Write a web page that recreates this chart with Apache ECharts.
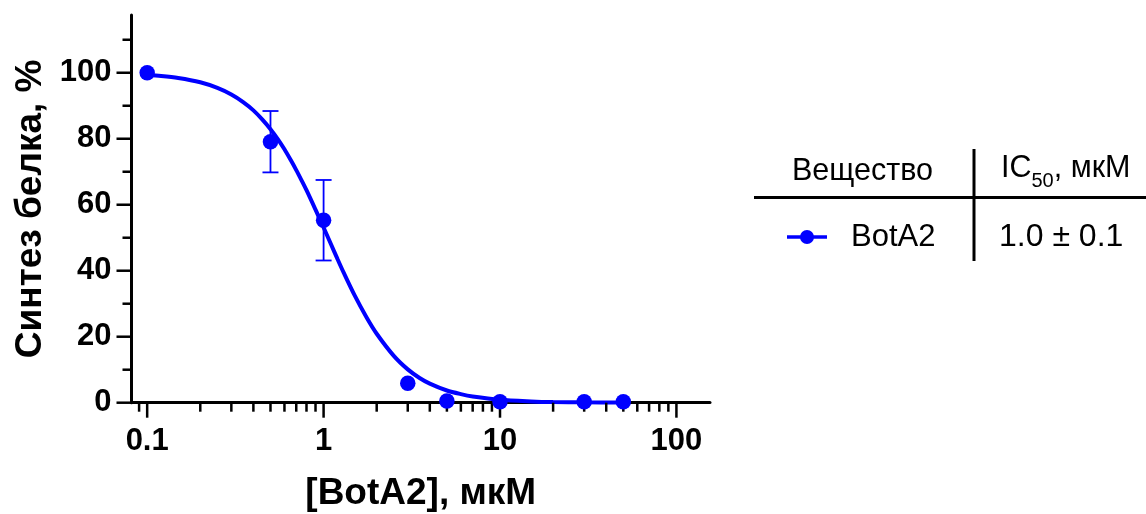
<!DOCTYPE html>
<html><head><meta charset="utf-8">
<script src="https://cdn.jsdelivr.net/npm/echarts@6/dist/echarts.min.js"></script>
<style>html,body{margin:0;padding:0;background:#fff}#c{width:1146px;height:514px}</style>
</head><body><div id="c"></div>
<script>
// ---- data ----
const concentrations = [0.1, 0.5, 1, 3, 5, 10, 30, 50];          // [BotA2], мкМ
const synthesisMean  = [100, 79.1, 55.3, 5.9, 0.5, 0.3, 0.3, 0.3]; // Синтез белка, %
const synthesisErr   = [0, 9.3, 12.2, 0, 0, 0, 0, 0];
const fitConc   = [0.1, 0.12, 0.15, 0.2, 0.25, 0.3, 0.35, 0.4, 0.45, 0.5, 0.55, 0.6, 0.65, 0.7, 0.75, 0.8, 0.9, 1, 1.1, 1.2, 1.3, 1.5, 1.75, 2, 2.5, 3, 3.5, 4, 5, 6, 7, 10, 15, 20, 30, 50];
const fitValues = [99.3, 99.0, 98.4, 97.1, 95.4, 93.4, 91.1, 88.6, 85.8, 82.9, 79.9, 76.8, 73.6, 70.5, 67.4, 64.4, 58.5, 53.1, 48.1, 43.5, 39.4, 32.5, 25.9, 20.9, 14.2, 10.1, 7.5, 5.8, 3.7, 2.6, 1.9, 0.9, 0.4, 0.2, 0.1, 0.03];
const xMajorTicks = [0.1, 1, 10, 100];
const xMinorTicks = [0.09, 0.2, 0.3, 0.4, 0.5, 0.6, 0.7, 0.8, 0.9, 2, 3, 4, 5, 6, 7, 8, 9, 20, 30, 40, 50, 60, 70, 80, 90];
const yMajorTicks = [0, 20, 40, 60, 80, 100];
const yMinorTicks = [10, 30, 50, 70, 90, 110];
const seriesName = 'BotA2';
const tableHeader = ['Вещество', 'IC', '50', ', мкМ'];
const tableRow = ['BotA2', '1.0 ± 0.1'];
const xTitle = '[BotA2], мкМ';
const yTitle = 'Синтез белка, %';

const X_MIN = 0.0815, X_MAX = 155, Y_MIN = 0, Y_MAX = 117.5;
const BLUE = '#0000ff';
const FONT = 'Liberation Sans';

function tickSeries(values, isX, len) {
  return {
    type: 'custom', coordinateSystem: 'cartesian2d', silent: true, clip: false, z: 5,
    data: values.filter(v => isX ? (v >= X_MIN && v <= X_MAX) : (v >= Y_MIN && v <= Y_MAX))
                .map(v => isX ? [v, Y_MIN] : [X_MIN, v]),
    renderItem: (params, api) => {
      const p = api.coord([api.value(0), api.value(1)]);
      const shape = isX ? { x1: p[0], y1: p[1], x2: p[0], y2: p[1] + len }
                        : { x1: p[0] - len, y1: p[1], x2: p[0], y2: p[1] };
      return { type: 'line', shape, style: { stroke: '#000', lineWidth: 2.5 } };
    }
  };
}

const errData = [];
concentrations.forEach((c, i) => { if (synthesisErr[i] > 0) errData.push([c, synthesisMean[i], synthesisErr[i]]); });

const boldText = { color: '#000', fontFamily: FONT, fontWeight: 'bold' };

const chart = echarts.init(document.getElementById('c'), null, { renderer: 'canvas' });
chart.setOption({
  animation: false,
  backgroundColor: '#fff',
  grid: { left: 131.5, top: 15, width: 578.5, height: 387.7, outerBoundsMode: 'none', containLabel: false },
  xAxis: {
    type: 'log', logBase: 10, min: X_MIN, max: X_MAX,
    axisLine: { lineStyle: { color: '#000', width: 3 } },
    axisTick: { show: false }, minorTick: { show: false },
    splitLine: { show: false }, minorSplitLine: { show: false },
    axisLabel: Object.assign({}, boldText, {
      margin: 23, fontSize: 31,
      showMinLabel: false, showMaxLabel: false,
      formatter: v => { const l = Math.log10(v); return Math.abs(l - Math.round(l)) < 1e-6 ? String(+v.toPrecision(3)) : ''; }
    }),
    name: xTitle, nameLocation: 'middle', nameGap: 73,
    nameTextStyle: Object.assign({}, boldText, { fontSize: 37 })
  },
  yAxis: {
    type: 'value', min: Y_MIN, max: Y_MAX, interval: 20,
    axisLine: { show: true, lineStyle: { color: '#000', width: 3 } },
    axisTick: { show: false }, splitLine: { show: false },
    axisLabel: Object.assign({}, boldText, {
      margin: 20, fontSize: 31,
      showMaxLabel: false,
      formatter: v => (v % 20 === 0 && v <= 100) ? String(v) : ''
    }),
    name: yTitle, nameLocation: 'middle', nameGap: 72,
    nameTextStyle: Object.assign({}, boldText, { fontSize: 37 })
  },
  series: [
    tickSeries(xMajorTicks, true, 15),
    tickSeries(xMinorTicks, true, 9),
    tickSeries(yMajorTicks, false, 15),
    tickSeries(yMinorTicks, false, 9),
    {
      type: 'custom', coordinateSystem: 'cartesian2d', silent: true, clip: false, z: 3,
      data: errData,
      renderItem: (params, api) => {
        const x = api.value(0), m = api.value(1), e = api.value(2);
        const t = api.coord([x, m + e]), b = api.coord([x, m - e]);
        const st = { stroke: BLUE, lineWidth: 1.8 };
        const w = 8;
        return { type: 'group', children: [
          { type: 'line', shape: { x1: t[0], y1: t[1], x2: b[0], y2: b[1] }, style: st },
          { type: 'line', shape: { x1: t[0] - w, y1: t[1], x2: t[0] + w, y2: t[1] }, style: st },
          { type: 'line', shape: { x1: b[0] - w, y1: b[1], x2: b[0] + w, y2: b[1] }, style: st }
        ]};
      }
    },
    {
      name: seriesName + ' fit', type: 'line', data: fitConc.map((c, i) => [c, fitValues[i]]),
      showSymbol: false, symbol: 'none', smooth: 0.3, clip: false, z: 4,
      lineStyle: { color: BLUE, width: 4 }
    },
    {
      name: seriesName, type: 'scatter', data: concentrations.map((c, i) => [c, synthesisMean[i]]),
      symbol: 'circle', symbolSize: 15.5, clip: false, z: 6,
      itemStyle: { color: BLUE, opacity: 1 }
    }
  ],
  graphic: [
    { type: 'line', shape: { x1: 754, y1: 197.5, x2: 1146, y2: 197.5 }, style: { stroke: '#000', lineWidth: 3 } },
    { type: 'line', shape: { x1: 974, y1: 149, x2: 974, y2: 261 }, style: { stroke: '#000', lineWidth: 3 } },
    { type: 'text', x: 792, y: 172, style: { text: tableHeader[0], fontFamily: FONT, fontSize: 30.5, fill: '#000', align: 'left', verticalAlign: 'middle' } },
    { type: 'text', x: 1001, y: 172, style: {
        text: '{m|' + tableHeader[1] + '}{s|' + tableHeader[2] + '}{m|' + tableHeader[3] + '}',
        align: 'left', verticalAlign: 'middle', fill: '#000',
        rich: {
          m: { fontFamily: FONT, fontSize: 30.5, lineHeight: 38, verticalAlign: 'top', fill: '#000' },
          s: { fontFamily: FONT, fontSize: 20, lineHeight: 20, verticalAlign: 'bottom', fill: '#000' }
        } } },
    { type: 'line', shape: { x1: 787, y1: 237, x2: 827, y2: 237 }, style: { stroke: BLUE, lineWidth: 3.5 } },
    { type: 'circle', shape: { cx: 807, cy: 237, r: 7 }, style: { fill: BLUE } },
    { type: 'text', x: 851, y: 237, style: { text: tableRow[0], fontFamily: FONT, fontSize: 31, fill: '#000', align: 'left', verticalAlign: 'middle' } },
    { type: 'text', x: 999, y: 237, style: { text: tableRow[1], fontFamily: FONT, fontSize: 32, fill: '#000', align: 'left', verticalAlign: 'middle' } }
  ]
});
</script></body></html>
